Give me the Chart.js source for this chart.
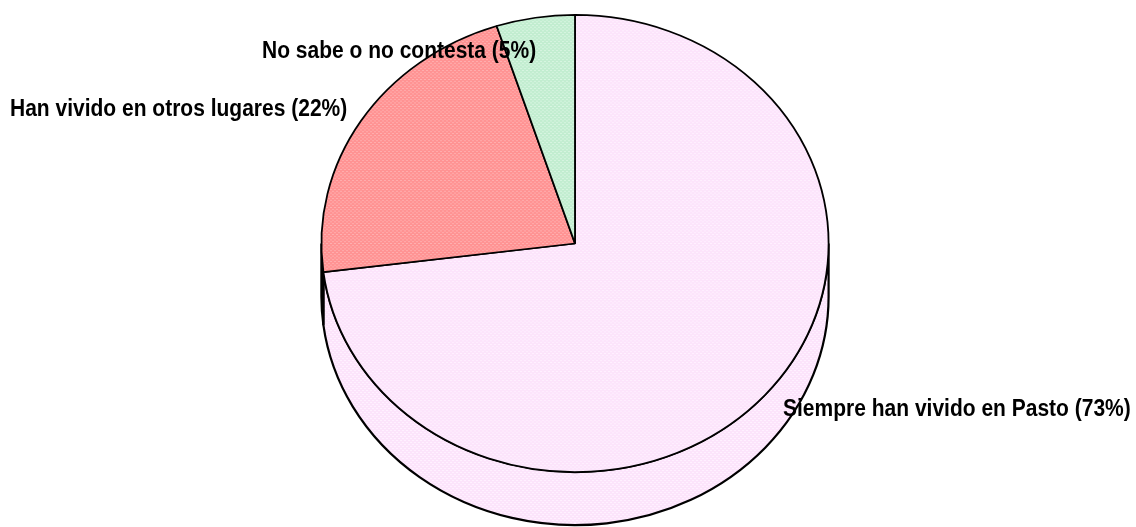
<!DOCTYPE html>
<html lang="es">
<head>
  <meta charset="UTF-8">
  <title>Lugar de residencia</title>
  <script src="https://cdn.jsdelivr.net/npm/chart.js"></script>
  <style>
    html, body {
      margin: 0;
      padding: 0;
      background: #ffffff;
    }
    .container {
      width: 1136px;
      height: 527px;
    }
  </style>
</head>
<body>
  <div class="container">
    <canvas id="pie-chart" width="1136" height="527"></canvas>
  </div>

  <script>
    // Data
    const categories = [
      'Siempre han vivido en Pasto',
      'Han vivido en otros lugares',
      'No sabe o no contesta'
    ];
    const percents = [73, 22, 5];
    const baseColors = ['#FCE4FB', '#FF9393', '#C2EDD0'];
    const dotColors = ['#FFF0FF', '#FFAFAF', '#D8F6E2'];

    // 3D look: vertical squash of the top face and depth of the rim
    const TILT = 228.5 / 253.5;
    const DEPTH = 53;
    const CENTER_Y = 243.5;

    // where each label starts (left x, middle y)
    const labelSpots = [
      [783, 410],
      [10, 110],
      [262, 52]
    ];

    // small dotted textures like the original fills
    function makePattern(base, dot) {
      const c = document.createElement('canvas');
      c.width = 4;
      c.height = 4;
      const g = c.getContext('2d');
      g.fillStyle = base;
      g.fillRect(0, 0, 4, 4);
      g.fillStyle = dot;
      g.fillRect(0, 0, 2, 1);
      g.fillRect(2, 2, 2, 1);
      return g.createPattern(c, 'repeat');
    }
    const fills = baseColors.map((b, i) => makePattern(b, dotColors[i]));

    const pie3d = {
      id: 'pie3d',
      beforeDatasetsDraw(chart) {
        const ctx = chart.ctx;
        const arcs = chart.getDatasetMeta(0).data;
        const cx = arcs[0].x;
        const rx = arcs[0].outerRadius;
        const ry = rx * TILT;

        // side wall (only the front half is visible)
        ctx.save();
        ctx.lineWidth = 2.2;
        ctx.strokeStyle = '#000';
        arcs.forEach((arc, i) => {
          for (let k = -1; k <= 1; k++) {
            const s = Math.max(arc.startAngle + k * 2 * Math.PI, 0);
            const e = Math.min(arc.endAngle + k * 2 * Math.PI, Math.PI);
            if (e <= s) continue;
            ctx.beginPath();
            ctx.ellipse(cx, CENTER_Y, rx, ry, 0, s, e);
            ctx.ellipse(cx, CENTER_Y + DEPTH, rx, ry, 0, e, s, true);
            ctx.closePath();
            ctx.fillStyle = fills[i];
            ctx.fill();
            ctx.stroke();
          }
        });
        ctx.restore();

        // squash the top face into an ellipse
        ctx.save();
        ctx.translate(cx, CENTER_Y);
        ctx.scale(1, TILT);
        ctx.translate(-cx, -arcs[0].y);
      },
      afterDatasetsDraw(chart) {
        chart.ctx.restore();
      },
      afterDraw(chart) {
        const ctx = chart.ctx;
        categories.forEach((c, i) => {
          const [x, y] = labelSpots[i];
          ctx.save();
          ctx.translate(x, y);
          ctx.scale(1, 1.12);
          ctx.font = 'bold 21px "Liberation Sans", Arial, sans-serif';
          ctx.fillStyle = '#000';
          ctx.textAlign = 'left';
          ctx.textBaseline = 'middle';
          ctx.fillText(c + ' (' + percents[i] + '%)', 0, 0);
          ctx.restore();
        });
      }
    };

    const ctx = document.getElementById('pie-chart').getContext('2d');
    new Chart(ctx, {
      type: 'pie',
      data: {
        labels: categories,
        datasets: [{
          data: percents,
          backgroundColor: fills,
          borderColor: '#000',
          borderWidth: 1.8,
          borderAlign: 'center'
        }]
      },
      options: {
        responsive: false,
        animation: false,
        layout: {
          padding: { left: 320.5, right: 306.5, top: 0, bottom: 18 }
        },
        plugins: {
          legend: { display: false },
          tooltip: { enabled: false }
        }
      },
      plugins: [pie3d]
    });
  </script>
</body>
</html>
